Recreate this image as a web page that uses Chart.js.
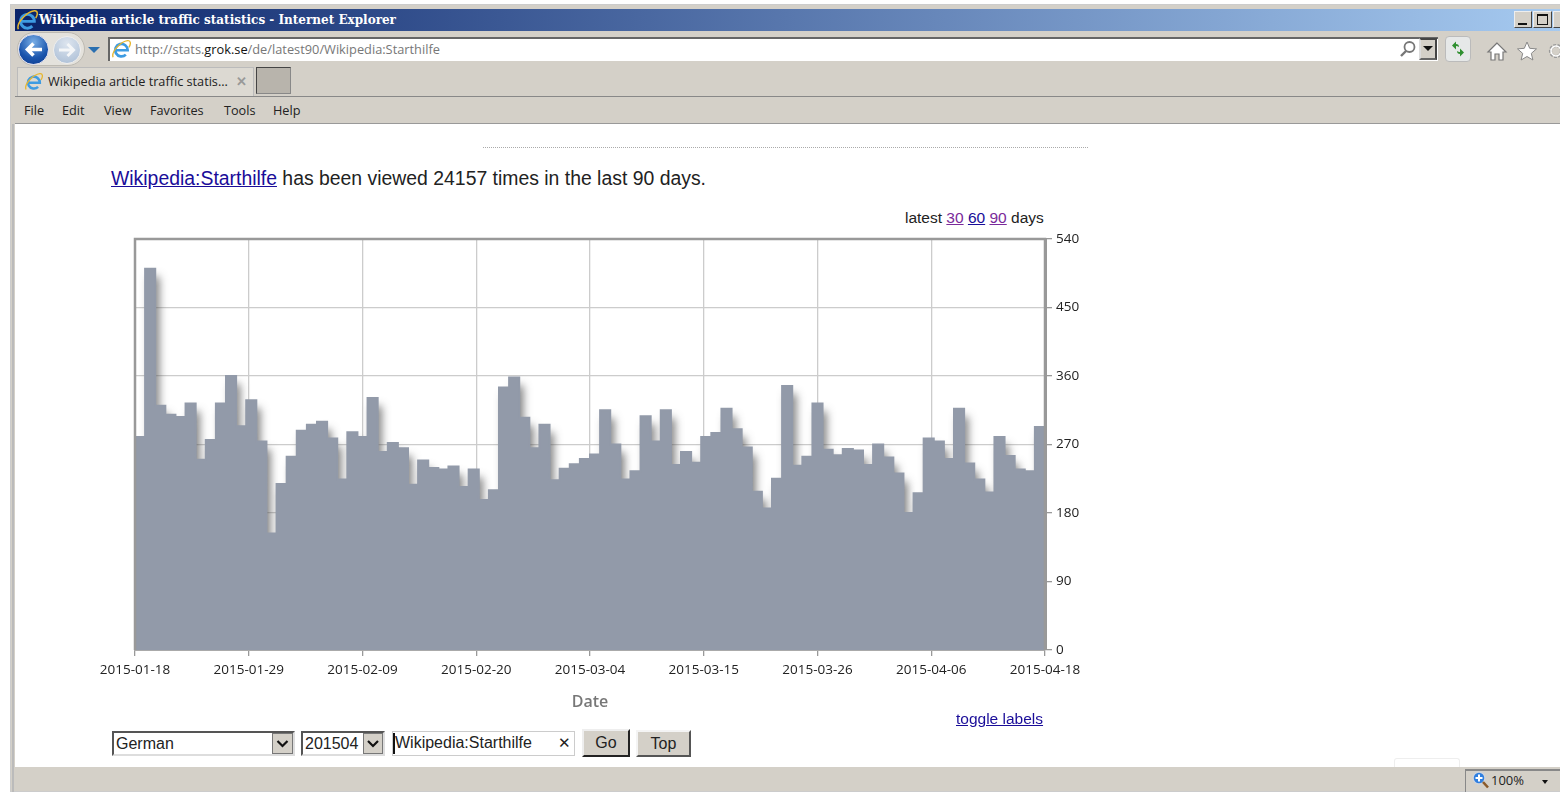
<!DOCTYPE html>
<html><head><meta charset="utf-8">
<script src="https://cdn.jsdelivr.net/npm/chart.js@4"></script>
<style>
html,body{margin:0;padding:0;width:1560px;height:792px;overflow:hidden;background:#fff}
.a{position:absolute;white-space:nowrap}
svg{position:absolute;overflow:visible}
.ui{font-family:"Open Sans",sans-serif;font-size:12.7px;color:#222}
.pg{font-family:"Liberation Sans",Arial,sans-serif;color:#222}
a{color:#1a0d99;text-decoration:underline}
a.v{color:#7a2a9a}
.fld{background:#fff;border:2px solid;border-color:#555 #ddd #ddd #555;box-sizing:border-box;font-family:"Liberation Sans",sans-serif;font-size:16px;color:#222;padding-left:2px;line-height:22px}
.arr{background:#d4d0c8;border:1px solid #777;box-sizing:border-box}
.btn{background:#d4d0c8;box-sizing:border-box;border:2px solid;border-color:#f4f4f4 #555 #555 #f4f4f4;font-family:"Liberation Sans",sans-serif;font-size:16px;color:#222;text-align:center;line-height:24px}
.wb{background:#d4d0c8;border:1px solid;border-color:#eee #444 #444 #eee;box-sizing:border-box}
</style></head><body>
<svg width="0" height="0" style="position:absolute"><defs>
<symbol id="ie" viewBox="0 0 24 24"><path d="M6.5 13.5H20a7.5 7.5 0 1 0-2.2 5.2" fill="none" stroke="#3d9be2" stroke-width="3.2"/><path d="M2.5 22C0 15 12 3 20 2c4-.4 4 4 1.5 8" fill="none" stroke="#e6b62e" stroke-width="1.6"/></symbol>
</defs></svg>
<div class="a" style="left:10px;top:4px;width:1550px;height:788px;background:#d4d0c8;border:1px solid #ccc;border-right:0;box-sizing:border-box"></div>
<div class="a" style="left:15px;top:9px;width:1545px;height:22px;background:linear-gradient(90deg,#0a246a 0%,#a6caf0 100%)"></div>
<div class="a" style="left:15px;top:124px;width:1545px;height:643px;background:#fff"></div>
<div class="a" style="left:12px;top:124px;width:2px;height:668px;background:#bbb"></div>
<div class="a" style="left:15px;top:96px;width:1545px;height:1px;background:#888"></div>
<div class="a" style="left:15px;top:123px;width:1545px;height:1px;background:#999"></div>
<div class="a" style="left:39px;top:13px;font:bold 12px 'DejaVu Serif',serif;color:#fff">Wikipedia article traffic statistics - Internet Explorer</div>
<svg style="left:16px;top:9px" width="22" height="22"><use href="#ie" width="22" height="22"/></svg>
<div class="a wb" style="left:1514px;top:11px;width:18px;height:17px"></div>
<div class="a" style="left:1518px;top:23px;width:9px;height:2px;background:#111"></div>
<div class="a wb" style="left:1533px;top:11px;width:19px;height:17px"></div>
<div class="a" style="left:1537px;top:14px;width:11px;height:11px;border:1px solid #111;border-top-width:2px;box-sizing:border-box"></div>
<div class="a wb" style="left:1553px;top:11px;width:8px;height:17px"></div>
<!-- nav -->
<div class="a" style="left:17px;top:32px;width:68px;height:34px;border-radius:17px;background:#e4e2dc;border:1px solid #bdbab2;box-sizing:border-box"></div>
<div class="a" style="left:18px;top:34px;width:31px;height:31px;border-radius:50%;background:radial-gradient(circle at 50% 25%,#79aee6,#1a55ad 60%,#0e3a8c);border:1px solid #dde;box-sizing:border-box"></div>
<svg style="left:18px;top:34px" width="31" height="31"><path d="M24 15.5H10M15.5 9.5l-6 6 6 6" fill="none" stroke="#fff" stroke-width="3.6"/></svg>
<div class="a" style="left:53px;top:36px;width:28px;height:28px;border-radius:50%;background:radial-gradient(circle at 50% 25%,#dde5ef,#a8bcd4);border:1px solid #eee;box-sizing:border-box"></div>
<svg style="left:53px;top:36px" width="28" height="28"><path d="M6 14h14M14.5 8l6 6-6 6" fill="none" stroke="#f4f6f8" stroke-width="3"/></svg>
<div class="a" style="left:88px;top:47px;width:0;height:0;border-left:6px solid transparent;border-right:6px solid transparent;border-top:6px solid #2a6fb0"></div>
<div class="a" style="left:108px;top:37px;width:1330px;height:24px;background:#fff;border-top:2px solid #666;border-left:2px solid #666;box-sizing:border-box"></div>
<div class="a ui" style="left:135px;top:40px;color:#777;font-size:12.8px">http://stats.<span style="color:#111">grok.se</span>/de/latest90/Wikipedia:Starthilfe</div>
<svg style="left:111px;top:39px" width="20" height="20"><use href="#ie" width="20" height="20"/></svg>
<svg style="left:1399px;top:40px" width="18" height="18"><circle cx="10.5" cy="7" r="5" fill="none" stroke="#777" stroke-width="1.8"/><path d="M7 11l-5 5" stroke="#777" stroke-width="2.4"/></svg>
<div class="a" style="left:1419px;top:38px;width:18px;height:22px;background:#d4d0c8;border:2px solid;border-color:#444 #444 #666 #ddd;box-sizing:border-box"></div>
<div class="a" style="left:1423px;top:46px;width:0;height:0;border-left:5px solid transparent;border-right:5px solid transparent;border-top:5px solid #111"></div>
<div class="a" style="left:1445px;top:36px;width:26px;height:26px;background:#e6e8e8;border:1px solid #bbb;border-radius:4px;box-sizing:border-box"></div>
<svg style="left:1445px;top:36px" width="26" height="26"><path d="M7 9.500l4-4v2.500c2 0 3 1 3 3-1-.8-2-1-3-1v3.500z" fill="#2f8f2f"/><path d="M19 16.500l-4 4v-2.500c-2 0-3-1-3-3 1 .8 2 1 3 1v-3.500z" fill="#2f8f2f"/></svg>
<svg style="left:1487px;top:42px" width="20" height="19"><path d="M10 1L1 10h3v8h4v-6h4v6h4v-8h3z" fill="#fff" stroke="#777" stroke-width="1.200"/></svg>
<svg style="left:1517px;top:41px" width="20" height="19"><path d="M10 1l2.700 6.300 6.800.6-5.200 4.500 1.600 6.600L10 15.500 4.100 19l1.600-6.600L.5 7.900l6.800-.6z" fill="#fff" stroke="#888" stroke-width="1"/></svg>
<svg style="left:1547px;top:42px" width="16" height="18"><circle cx="9" cy="9" r="5.500" fill="none" stroke="#999" stroke-width="3.200" stroke-dasharray="2.600 1.200"/><circle cx="9" cy="9" r="5" fill="none" stroke="#fff" stroke-width="1.500"/></svg>
<!-- tab -->
<div class="a" style="left:17px;top:67px;width:237px;height:29px;background:#dcd9d2;border:1px solid #bbb;border-bottom:0;box-sizing:border-box"></div>
<svg style="left:24px;top:72px" width="19" height="19"><use href="#ie" width="19" height="19"/></svg>
<div class="a ui" style="left:48px;top:72px">Wikipedia article traffic statis...</div>
<div class="a ui" style="left:236px;top:72px;color:#999;font-weight:bold">✕</div>
<div class="a" style="left:256px;top:67px;width:35px;height:27px;background:#b8b4ac;border:1px solid;border-color:#444 #888 #888 #444;box-sizing:border-box"></div>
<div class="a ui" style="left:24px;top:101px">File</div><div class="a ui" style="left:62px;top:101px">Edit</div><div class="a ui" style="left:104px;top:101px">View</div><div class="a ui" style="left:150px;top:101px">Favorites</div><div class="a ui" style="left:224px;top:101px">Tools</div><div class="a ui" style="left:273px;top:101px">Help</div>
<!-- page -->
<div class="a" style="left:483px;top:147px;width:605px;border-top:1px dotted #aaa"></div>
<div class="a pg" style="left:111px;top:167px;font-size:19.4px"><a href="#">Wikipedia:Starthilfe</a> has been viewed 24157 times in the last 90 days.</div>
<div class="a pg" style="left:905px;top:209px;font-size:15.5px">latest <a class="v" href="#">30</a> <a href="#">60</a> <a class="v" href="#">90</a> days</div>
<div class="a" style="left:60px;top:225px;width:1040px;height:490px"><canvas id="c" width="1040" height="490"></canvas></div>
<div class="a pg" style="left:956px;top:710px;font-size:15.5px"><a href="#">toggle labels</a></div>
<div class="a fld" style="left:112px;top:731px;width:183px;height:25px">German</div>
<div class="a arr" style="left:272px;top:733px;width:21px;height:21px"></div>
<svg style="left:272px;top:733px" width="21" height="21"><path d="M5.500 8l5 5 5-5" fill="none" stroke="#111" stroke-width="2.200"/></svg>
<div class="a fld" style="left:301px;top:731px;width:84px;height:25px">201504</div>
<div class="a arr" style="left:363px;top:733px;width:20px;height:21px"></div>
<svg style="left:363px;top:733px" width="20" height="21"><path d="M5 8l5 5 5-5" fill="none" stroke="#111" stroke-width="2.200"/></svg>
<div class="a fld" style="left:392px;top:731px;width:183px;height:25px;border-width:1px;border-color:#ccc">Wikipedia:Starthilfe</div>
<div class="a" style="left:393px;top:733px;width:2px;height:21px;background:#111"></div>
<div class="a pg" style="left:558px;top:734px;font-size:15px">✕</div>
<div class="a btn" style="left:582px;top:729px;width:48px;height:28px;border-color:#eee #222 #222 #eee">Go</div>
<div class="a btn" style="left:636px;top:730px;width:55px;height:27px">Top</div>
<div class="a" style="left:1394px;top:758px;width:66px;height:9px;background:#fff;border:1px solid #eee;border-bottom:0;border-radius:3px 3px 0 0;box-sizing:border-box"></div>
<div class="a" style="left:1465px;top:769px;width:95px;height:23px;border-top:2px solid #888;border-left:1px solid #888;box-sizing:border-box"></div>
<svg style="left:1472px;top:771px" width="17" height="18"><circle cx="7" cy="7" r="6" fill="#2f7fe0" stroke="#cfd4dc" stroke-width="1.500"/><path d="M7 3.500v7M3.500 7h7" stroke="#fff" stroke-width="2"/><path d="M11 11l5 5.500" stroke="#8a5a2a" stroke-width="2.600"/></svg>
<div class="a ui" style="left:1491px;top:771px;font-size:13px">100%</div>
<div class="a" style="left:1542px;top:780px;width:0;height:0;border-left:3.500px solid transparent;border-right:3.500px solid transparent;border-top:4px solid #111"></div>
<script>
const views=[280,501,321,309,306,324,250,276,324,360,294,328,274,153,218,254,288,296,300,278,224,286,280,331,260,272,265,217,249,239,237,241,214,237,197,210,345,358,305,265,296,223,238,244,251,257,315,270,224,235,307,274,315,243,260,246,280,285,317,290,266,208,186,225,347,242,254,324,263,256,264,262,243,270,253,232,180,206,278,274,251,317,245,224,207,280,255,237,235,293];
const xTickLabels=['2015-01-18','2015-01-29','2015-02-09','2015-02-20','2015-03-04','2015-03-15','2015-03-26','2015-04-06','2015-04-18'];
const yTicks=[0,90,180,270,360,450,540];
const points=views.map((v,i)=>({x:i,y:v}));
points.push({x:views.length,y:views[views.length-1]});
const shadow={id:'shadow',
 beforeDatasetsDraw(ch){const c=ch.ctx;c.save();c.shadowColor='rgba(70,70,70,.7)';c.shadowOffsetX=4;c.shadowOffsetY=8;c.shadowBlur=8;},
 beforeDatasetDraw(ch){const c=ch.ctx;c.shadowColor='rgba(0,0,0,0)';c.shadowOffsetX=0;c.shadowOffsetY=0;c.shadowBlur=0;},
 afterDatasetsDraw(ch){ch.ctx.restore();}};
const frame={id:'frame',afterDraw(ch){const c=ch.ctx,a=ch.chartArea;c.save();c.strokeStyle='#999';c.lineWidth=2.5;c.beginPath();c.moveTo(a.left,a.bottom);c.lineTo(a.left,a.top);c.lineTo(a.right,a.top);c.lineTo(a.right,a.bottom);c.stroke();c.restore();}};
new Chart(document.getElementById('c'),{type:'line',
 data:{datasets:[{data:points,stepped:'before',fill:'origin',backgroundColor:'#929aa9',borderColor:'#929aa9',borderWidth:2,borderJoinStyle:'miter',pointRadius:0}]},
 options:{responsive:false,animation:false,
  layout:{padding:{left:75,right:0,top:14,bottom:0}},
  plugins:{legend:{display:false},tooltip:{enabled:false}},
  scales:{
   x:{type:'linear',min:0,max:90,afterBuildTicks(s){s.ticks=xTickLabels.map((_,i)=>({value:i*90/8}));},
      afterFit(s){s.height=65;},
      grid:{color:'#cccccc',lineWidth:1.3,tickLength:6,tickColor:'#999'},border:{color:'#aaa',width:2},
      ticks:{autoSkip:false,maxRotation:0,callback:(v,i)=>xTickLabels[i],color:'#222',font:{family:'"Open Sans"',size:13.5},padding:6},
      title:{display:true,text:'Date',color:'#777',font:{family:'"Open Sans"',size:16,weight:'600'},padding:{top:8,bottom:3}}},
   y:{position:'right',min:0,max:540,afterBuildTicks(s){s.ticks=yTicks.map(v=>({value:v}));},
      afterFit(s){s.width=55;},
      grid:{color:'#cccccc',lineWidth:1.3,tickLength:7,tickColor:'#999'},border:{color:'#999',width:3},
      ticks:{autoSkip:false,color:'#222',font:{family:'"Open Sans"',size:13.5},padding:4}}
  }},
 plugins:[shadow,frame]});
</script>
</body></html>
